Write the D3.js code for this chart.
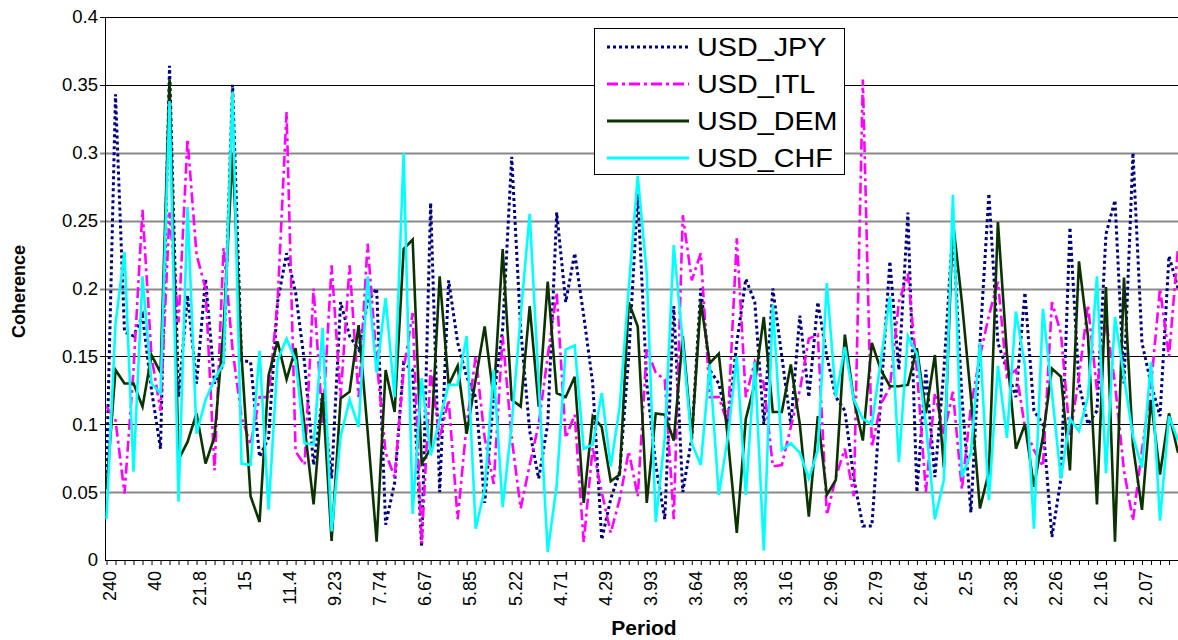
<!DOCTYPE html>
<html lang="en">

<head>
  <meta charset="UTF-8">
  <title>Coherence by Period</title>
  <script src="https://d3js.org/d3.v7.min.js"></script>
  <style>
    body { margin: 0; background: #fff; }
    text { font-family: "Liberation Sans", Arial, sans-serif; }
  </style>
</head>

<body>

  <script>
    // Periods (240 / k), one per category
    const periods = ["240", "120", "80", "60", "48", "40", "34.3", "30", "26.7", "24",
      "21.8", "20", "18.5", "17.1", "16", "15", "14.1", "13.3", "12.6", "12",
      "11.4", "10.9", "10.4", "10", "9.6", "9.23", "8.89", "8.57", "8.28", "8",
      "7.74", "7.5", "7.27", "7.06", "6.86", "6.67", "6.49", "6.32", "6.15", "6",
      "5.85", "5.71", "5.58", "5.45", "5.33", "5.22", "5.11", "5", "4.9", "4.8",
      "4.71", "4.62", "4.53", "4.44", "4.36", "4.29", "4.21", "4.14", "4.07", "4",
      "3.93", "3.87", "3.81", "3.75", "3.69", "3.64", "3.58", "3.53", "3.48", "3.43",
      "3.38", "3.33", "3.29", "3.24", "3.2", "3.16", "3.12", "3.08", "3.04", "3",
      "2.96", "2.93", "2.89", "2.86", "2.82", "2.79", "2.76", "2.73", "2.7", "2.67",
      "2.64", "2.61", "2.58", "2.55", "2.53", "2.5", "2.47", "2.45", "2.42", "2.4",
      "2.38", "2.35", "2.33", "2.31", "2.29", "2.26", "2.24", "2.22", "2.2", "2.18",
      "2.16", "2.14", "2.12", "2.11", "2.09", "2.07", "2.05", "2.03", "2.02", "2"];

    // only every 5th period is labelled on the axis
    const xTickLabels = ["240", "40", "21.8", "15", "11.4", "9.23", "7.74", "6.67", "5.85", "5.22",
      "4.71", "4.29", "3.93", "3.64", "3.38", "3.16", "2.96", "2.79", "2.64", "2.5",
      "2.38", "2.26", "2.16", "2.07"];

    const yTicks = [0, 0.05, 0.1, 0.15, 0.2, 0.25, 0.3, 0.35, 0.4];
    const yTickLabels = ["0", "0.05", "0.1", "0.15", "0.2", "0.25", "0.3", "0.35", "0.4"];

    const usdJpy = [0.064, 0.343, 0.168, 0.165, 0.18, 0.125, 0.082, 0.364, 0.12, 0.195,
      0.13, 0.207, 0.13, 0.145, 0.35, 0.147, 0.146, 0.076, 0.09, 0.19,
      0.226, 0.197, 0.145, 0.07, 0.12, 0.06, 0.19, 0.165, 0.155, 0.19,
      0.2, 0.026, 0.057, 0.145, 0.14, 0.01, 0.263, 0.05, 0.206, 0.16,
      0.135, 0.12, 0.042, 0.12, 0.17, 0.297, 0.17, 0.095, 0.06, 0.1,
      0.256, 0.19, 0.226, 0.18, 0.13, 0.015, 0.045, 0.065, 0.15, 0.27,
      0.13, 0.07, 0.03, 0.187, 0.05, 0.09, 0.2, 0.14, 0.13, 0.1,
      0.16, 0.207, 0.19, 0.1, 0.2, 0.15, 0.1, 0.18, 0.12, 0.19,
      0.15, 0.12, 0.11, 0.06, 0.025, 0.025, 0.12, 0.22, 0.14, 0.256,
      0.05, 0.14, 0.061, 0.14, 0.245, 0.12, 0.035, 0.16, 0.27, 0.16,
      0.14, 0.12, 0.197, 0.11, 0.1, 0.017, 0.06, 0.245, 0.13, 0.1,
      0.11, 0.24, 0.265, 0.13, 0.3, 0.16, 0.13, 0.106, 0.224, 0.2];

    const usdItl = [0.113, 0.103, 0.049, 0.14, 0.258, 0.15, 0.11, 0.256, 0.175, 0.31,
      0.225, 0.2, 0.066, 0.23, 0.155, 0.105, 0.085, 0.12, 0.12, 0.19,
      0.33, 0.08, 0.07, 0.2, 0.1, 0.217, 0.12, 0.217, 0.12, 0.233,
      0.147, 0.079, 0.061, 0.14, 0.182, 0.012, 0.14, 0.09, 0.118, 0.03,
      0.1, 0.15, 0.09, 0.056, 0.165, 0.09, 0.038, 0.07, 0.1, 0.15,
      0.197, 0.09, 0.107, 0.013, 0.083, 0.05, 0.02, 0.045, 0.08, 0.047,
      0.155, 0.138, 0.133, 0.03, 0.254, 0.206, 0.226, 0.12, 0.12, 0.1,
      0.237, 0.12, 0.146, 0.13, 0.069, 0.07, 0.098, 0.125, 0.163, 0.166,
      0.033, 0.061, 0.082, 0.047, 0.354, 0.083, 0.115, 0.127, 0.19, 0.211,
      0.14, 0.05, 0.123, 0.093, 0.124, 0.052, 0.113, 0.15, 0.18, 0.205,
      0.135, 0.14, 0.098, 0.081, 0.069, 0.19, 0.167, 0.091, 0.135, 0.188,
      0.125, 0.177, 0.13, 0.066, 0.029, 0.081, 0.128, 0.2, 0.15, 0.23];

    const usdDem = [0.052, 0.14, 0.13, 0.13, 0.113, 0.151, 0.138, 0.354, 0.074, 0.087,
      0.108, 0.071, 0.091, 0.17, 0.3, 0.15, 0.047, 0.028, 0.136, 0.161,
      0.133, 0.156, 0.098, 0.041, 0.123, 0.014, 0.119, 0.124, 0.173, 0.095,
      0.0135, 0.14, 0.109, 0.229, 0.236, 0.071, 0.082, 0.209, 0.129, 0.143,
      0.093, 0.133, 0.172, 0.119, 0.229, 0.118, 0.113, 0.187, 0.113, 0.205,
      0.123, 0.12, 0.135, 0.042, 0.106, 0.098, 0.058, 0.063, 0.19, 0.172,
      0.042, 0.108, 0.107, 0.088, 0.165, 0.09, 0.19, 0.145, 0.152, 0.09,
      0.02, 0.104, 0.13, 0.179, 0.109, 0.109, 0.144, 0.1, 0.032, 0.106,
      0.048, 0.059, 0.166, 0.118, 0.088, 0.16, 0.14, 0.128, 0.128, 0.129,
      0.156, 0.108, 0.151, 0.068, 0.25, 0.19, 0.12, 0.038, 0.065, 0.249,
      0.152, 0.082, 0.1, 0.054, 0.091, 0.141, 0.135, 0.066, 0.22, 0.165,
      0.041, 0.201, 0.0135, 0.208, 0.084, 0.037, 0.118, 0.063, 0.108, 0.079];

    const usdChf = [0.03, 0.174, 0.227, 0.065, 0.209, 0.13, 0.123, 0.338, 0.043, 0.26,
      0.093, 0.118, 0.133, 0.145, 0.345, 0.071, 0.07, 0.154, 0.037, 0.147,
      0.163, 0.147, 0.086, 0.085, 0.171, 0.021, 0.091, 0.118, 0.098, 0.209,
      0.138, 0.193, 0.12, 0.3, 0.034, 0.134, 0.077, 0.103, 0.129, 0.129,
      0.165, 0.023, 0.052, 0.14, 0.039, 0.1, 0.18, 0.255, 0.13, 0.006,
      0.055, 0.155, 0.158, 0.082, 0.085, 0.123, 0.069, 0.113, 0.2, 0.283,
      0.211, 0.028, 0.09, 0.232, 0.16, 0.086, 0.07, 0.144, 0.048, 0.09,
      0.15, 0.048, 0.146, 0.007, 0.188, 0.081, 0.086, 0.079, 0.06, 0.081,
      0.204, 0.12, 0.157, 0.118, 0.104, 0.1, 0.147, 0.194, 0.072, 0.165,
      0.152, 0.1, 0.03, 0.059, 0.269, 0.061, 0.079, 0.16, 0.044, 0.143,
      0.09, 0.183, 0.143, 0.023, 0.185, 0.123, 0.06, 0.104, 0.095, 0.12,
      0.209, 0.064, 0.179, 0.135, 0.091, 0.068, 0.146, 0.029, 0.106, 0.088];

    const seriesNames = ["USD_JPY", "USD_ITL", "USD_DEM", "USD_CHF"];
    const seriesValues = [usdJpy, usdItl, usdDem, usdChf];
    const seriesColors = ["#000080", "#ff00ff", "#0b3300", "#00ffff"];
    const seriesDash = ["3,3", "11,4,3,4", null, null];
    const seriesWidth = [3, 2.6, 2.6, 2.6];

    const width = 1178;
    const height = 640;
    const plot = { left: 105, right: 1178, top: 17, bottom: 560 };

    const svg = d3.select('body')
      .append('svg')
      .attr('width', width)
      .attr('height', height);

    const x = d3.scalePoint()
      .domain(periods)
      .range([plot.left + 1.5, plot.right]);

    const y = d3.scaleLinear()
      .domain([0, 0.4])
      .range([plot.bottom, plot.top]);

    // horizontal gridlines (some look grey and soft in the original, like Excel's anti-aliasing)
    const softGrid = [0.05, 0.2, 0.25, 0.3];
    svg.append('g')
      .selectAll('line')
      .data(yTicks.slice(1))
      .enter()
      .append('line')
      .attr('x1', plot.left - 5)
      .attr('x2', plot.right)
      .attr('y1', d => Math.round(y(d)) + 0.5)
      .attr('y2', d => Math.round(y(d)) + 0.5)
      .attr('stroke', d => softGrid.includes(d) ? '#8a8a8a' : '#000')
      .attr('stroke-width', d => softGrid.includes(d) ? 2 : 1);

    // y axis
    const yAxis = svg.append('g')
      .attr('transform', `translate(${plot.left},0)`)
      .call(d3.axisLeft(y)
        .tickValues(yTicks)
        .tickSize(5)
        .tickPadding(2)
        .tickFormat((d, i) => yTickLabels[i]));
    yAxis.select('.domain').attr('stroke', '#000').attr('d', `M0.5,${plot.top}V${plot.bottom}`);
    yAxis.selectAll('line').attr('stroke', 'none');
    yAxis.selectAll('text')
      .attr('font-size', 18.5)
      .attr('font-family', '"Liberation Sans", Arial, sans-serif')
      .attr('fill', '#000');

    // x axis
    const xAxis = svg.append('g')
      .attr('transform', `translate(0,${plot.bottom})`)
      .call(d3.axisBottom(x)
        .tickSize(5)
        .tickFormat(d => xTickLabels.includes(d) && periods.indexOf(d) % 5 === 0 ? d : ''));
    xAxis.select('.domain').attr('stroke', '#000').attr('d', `M${plot.left},0.5H${plot.right}`);
    xAxis.selectAll('text')
      .attr('font-size', 18)
      .attr('font-family', '"Liberation Sans", Arial, sans-serif')
      .attr('fill', '#000')
      .attr('transform', 'rotate(-90)')
      .attr('text-anchor', 'end')
      .attr('x', -11)
      .attr('y', 3)
      .attr('dy', '0.35em');

    // axis titles
    svg.append('text')
      .attr('transform', `translate(25,${(plot.top + plot.bottom) / 2 + 3}) rotate(-90)`)
      .attr('text-anchor', 'middle')
      .attr('font-size', 18)
      .attr('font-weight', 'bold')
      .text('Coherence');

    svg.append('text')
      .attr('x', 644)
      .attr('y', 635)
      .attr('text-anchor', 'middle')
      .attr('font-size', 21)
      .attr('font-weight', 'bold')
      .text('Period');

    // lines
    const line = d3.line()
      .x((d, i) => x(periods[i]))
      .y(d => y(d));

    svg.append('g')
      .selectAll('path')
      .data(seriesValues)
      .enter()
      .append('path')
      .attr('d', d => line(d))
      .attr('fill', 'none')
      .attr('stroke', (d, i) => seriesColors[i])
      .attr('stroke-width', (d, i) => seriesWidth[i])
      .attr('stroke-dasharray', (d, i) => seriesDash[i])
      .attr('stroke-linejoin', 'miter');

    // legend
    const legend = svg.append('g');
    legend.append('rect')
      .attr('x', 594.5)
      .attr('y', 28.5)
      .attr('width', 250)
      .attr('height', 146)
      .attr('fill', '#fff')
      .attr('stroke', '#000')
      .attr('stroke-width', 1);

    const rows = legend.selectAll('g.row')
      .data(seriesNames)
      .enter()
      .append('g')
      .attr('class', 'row')
      .attr('transform', (d, i) => `translate(0,${47 + i * 37})`);

    rows.append('line')
      .attr('x1', 607)
      .attr('x2', 689)
      .attr('stroke', (d, i) => seriesColors[i])
      .attr('stroke-width', 3)
      .attr('stroke-dasharray', (d, i) => seriesDash[i]);

    // legend labels are drawn a little wider than plain Arial
    rows.append('text')
      .attr('transform', 'translate(697,0) scale(1.15,1)')
      .attr('dy', '0.36em')
      .attr('font-size', 25)
      .text(d => d);
  </script>

</body>

</html>
